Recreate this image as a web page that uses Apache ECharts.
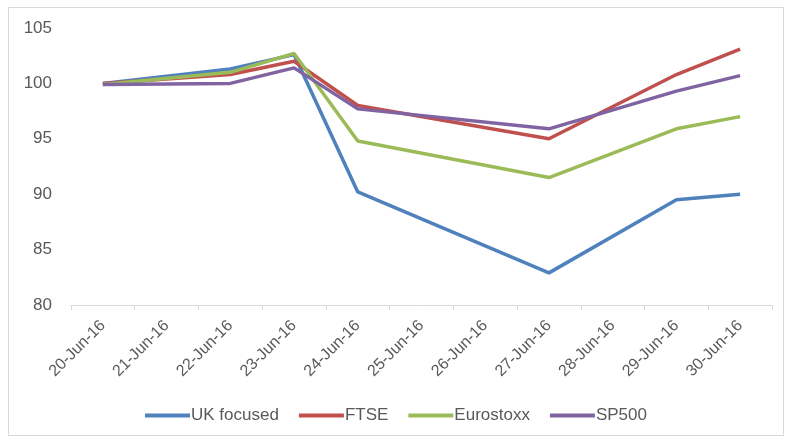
<!DOCTYPE html>
<html>
<head>
<meta charset="utf-8">
<script src="https://cdn.jsdelivr.net/npm/echarts@6/dist/echarts.min.js"></script>
<style>
html,body{margin:0;padding:0;background:#fff;}
#frame{position:absolute;left:8px;top:7px;width:776px;height:429px;border:1px solid #d9d9d9;box-sizing:border-box;}
#chart{position:absolute;left:0;top:0;width:792px;height:441px;}
</style>
</head>
<body>
<div id="frame"></div>
<div id="chart"></div>
<script>
var categories = ['20-Jun-16','21-Jun-16','22-Jun-16','23-Jun-16','24-Jun-16','25-Jun-16','26-Jun-16','27-Jun-16','28-Jun-16','29-Jun-16','30-Jun-16'];
var ukFocused  = [100.0, null, 101.3, 102.6, 90.2, null, null, 82.9, null, 89.5, 90.0];
var ftse       = [100.0, null, 100.8, 102.0, 98.0, null, null, 95.0, null, 100.8, 103.1];
var eurostoxx  = [99.9,  null, 101.0, 102.7, 94.8, null, null, 91.5, null, 95.9, 97.0];
var sp500      = [99.9,  null, 100.0, 101.4, 97.7, null, null, 95.9, null, 99.3, 100.7];
var yTicks = {min: 80, max: 105, interval: 5};

var colors = ['#4F81BD', '#C0504D', '#9BBB59', '#8064A2'];
var names = ['UK focused', 'FTSE', 'Eurostoxx', 'SP500'];
var datasets = [ukFocused, ftse, eurostoxx, sp500];

var chart = echarts.init(document.getElementById('chart'), null, {renderer: 'canvas'});
var font = '"Liberation Sans", Arial, sans-serif';
chart.setOption({
  animation: false,
  color: colors,
  textStyle: {fontFamily: font},
  grid: {left: 71, right: 20, top: 28, bottom: 136},
  legend: {
    top: 402,
    left: 'center',
    itemWidth: 45,
    itemHeight: 4,
    itemGap: 20,
    icon: 'rect',
    textStyle: {color: '#595959', fontSize: 17, fontFamily: font, padding: [0,0,0,-4]},
    data: names
  },
  xAxis: {
    type: 'category',
    data: categories,
    boundaryGap: true,
    axisLine: {lineStyle: {color: '#d9d9d9', width: 1}},
    axisTick: {show: true, length: 5, lineStyle: {color: '#d9d9d9'}},
    axisLabel: {rotate: 45, color: '#595959', fontSize: 16, margin: 18, interval: 0, fontFamily: font}
  },
  yAxis: {
    type: 'value',
    min: yTicks.min, max: yTicks.max, interval: yTicks.interval,
    axisLine: {show: false},
    axisTick: {show: false},
    splitLine: {show: false},
    axisLabel: {color: '#595959', fontSize: 17, margin: 19, fontFamily: font}
  },
  series: datasets.map(function (d, i) {
    return {
      name: names[i],
      type: 'line',
      data: d,
      connectNulls: true,
      showSymbol: false,
      symbol: 'none',
      lineStyle: {width: 3.5, color: colors[i]},
      itemStyle: {color: colors[i]}
    };
  })
});
</script>
</body>
</html>
